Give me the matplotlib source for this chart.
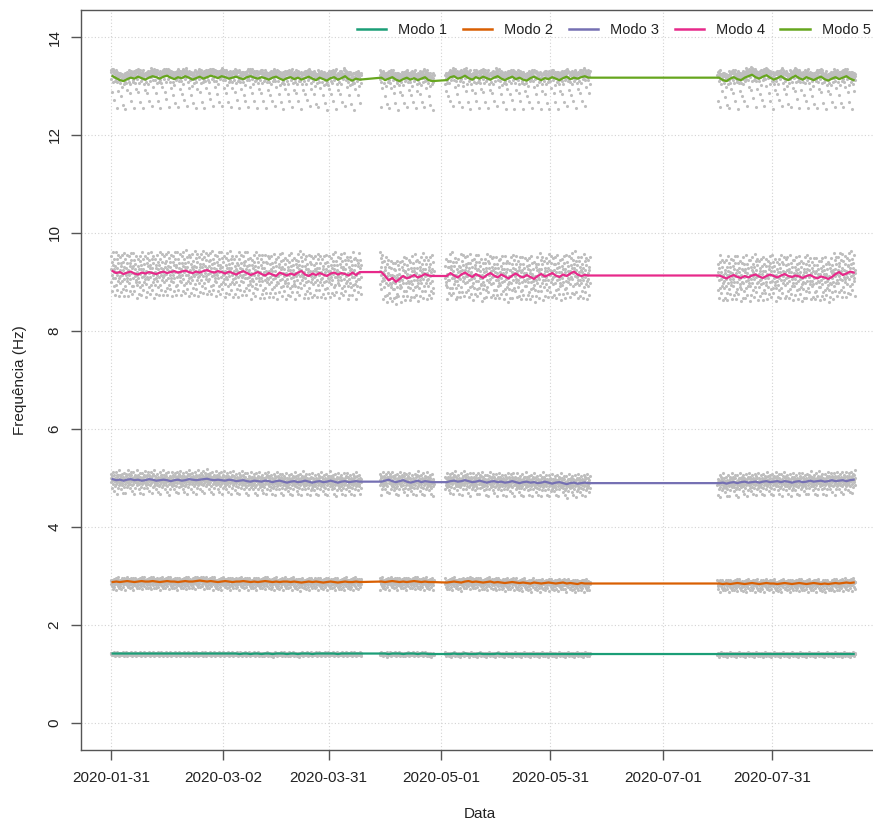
import numpy as np
import matplotlib
matplotlib.use("Agg")
import matplotlib.pyplot as plt
import matplotlib.dates as mdates
from matplotlib.lines import Line2D
import pandas as pd

plt.rcParams['font.family'] = ['Liberation Sans', 'DejaVu Sans']

# ---------------- data ----------------
segment_starts = ["2020-01-31", "2020-04-14", "2020-05-02", "2020-07-16"]

# Modo 1 (daily line values per segment)
modo1_a = [1.41, 1.41, 1.41, 1.41, 1.41, 1.41, 1.41, 1.41, 1.41, 1.41,
           1.41, 1.41, 1.41, 1.41, 1.41, 1.41, 1.41, 1.41, 1.41, 1.41,
           1.41, 1.41, 1.41, 1.41, 1.41, 1.41, 1.41, 1.41, 1.41, 1.41,
           1.41, 1.41, 1.41, 1.41, 1.41, 1.40, 1.41, 1.41, 1.40, 1.41,
           1.41, 1.40, 1.41, 1.41, 1.40, 1.41, 1.41, 1.41, 1.40, 1.41,
           1.41, 1.40, 1.41, 1.41, 1.41, 1.40, 1.41, 1.41, 1.41, 1.41,
           1.41, 1.41, 1.40, 1.41, 1.41, 1.41, 1.41, 1.41, 1.41]
modo1_b = [1.41, 1.41, 1.40, 1.41, 1.41, 1.41, 1.40, 1.41, 1.41, 1.41,
           1.40, 1.41, 1.41, 1.40, 1.40]
modo1_c = [1.40, 1.40, 1.41, 1.40, 1.40, 1.41, 1.40, 1.40, 1.40, 1.41,
           1.40, 1.40, 1.40, 1.40, 1.41, 1.40, 1.40, 1.40, 1.40, 1.40,
           1.40, 1.40, 1.40, 1.40, 1.40, 1.40, 1.40, 1.40, 1.40, 1.40,
           1.40, 1.40, 1.40, 1.40, 1.40, 1.40, 1.40, 1.40, 1.40, 1.40]
modo1_d = [1.40, 1.40, 1.40, 1.40, 1.40, 1.40, 1.40, 1.40, 1.40, 1.40,
           1.40, 1.40, 1.40, 1.40, 1.40, 1.40, 1.40, 1.40, 1.40, 1.40,
           1.40, 1.40, 1.40, 1.40, 1.40, 1.40, 1.40, 1.40, 1.40, 1.40,
           1.40, 1.40, 1.40, 1.40, 1.40, 1.40, 1.40, 1.40]

# Modo 2
modo2_a = [2.87, 2.88, 2.87, 2.88, 2.89, 2.88, 2.87, 2.88, 2.89, 2.88,
           2.88, 2.89, 2.88, 2.87, 2.88, 2.89, 2.88, 2.88, 2.87, 2.88,
           2.89, 2.88, 2.88, 2.89, 2.90, 2.89, 2.88, 2.89, 2.88, 2.87,
           2.88, 2.89, 2.88, 2.87, 2.88, 2.88, 2.89, 2.88, 2.87, 2.88,
           2.87, 2.88, 2.89, 2.88, 2.87, 2.88, 2.87, 2.88, 2.88, 2.87,
           2.88, 2.87, 2.86, 2.87, 2.88, 2.87, 2.88, 2.87, 2.86, 2.87,
           2.88, 2.87, 2.86, 2.87, 2.88, 2.87, 2.87, 2.88, 2.87]
modo2_b = [2.88, 2.87, 2.88, 2.89, 2.88, 2.87, 2.88, 2.87, 2.88, 2.89,
           2.88, 2.87, 2.88, 2.87, 2.87]
modo2_c = [2.86, 2.87, 2.88, 2.87, 2.86, 2.88, 2.89, 2.87, 2.88, 2.87,
           2.86, 2.87, 2.88, 2.86, 2.87, 2.86, 2.85, 2.86, 2.87, 2.86,
           2.85, 2.86, 2.85, 2.84, 2.86, 2.85, 2.84, 2.85, 2.86, 2.85,
           2.84, 2.85, 2.86, 2.84, 2.85, 2.84, 2.83, 2.85, 2.84, 2.84]
modo2_d = [2.84, 2.83, 2.84, 2.83, 2.84, 2.85, 2.84, 2.83, 2.84, 2.85,
           2.84, 2.83, 2.84, 2.85, 2.84, 2.84, 2.83, 2.84, 2.85, 2.84,
           2.83, 2.84, 2.85, 2.84, 2.83, 2.84, 2.85, 2.84, 2.83, 2.84,
           2.83, 2.84, 2.85, 2.84, 2.85, 2.86, 2.85, 2.86]

# Modo 3
modo3_a = [4.97, 4.95, 4.96, 4.94, 4.96, 4.97, 4.95, 4.96, 4.94, 4.95,
           4.97, 4.96, 4.94, 4.95, 4.96, 4.95, 4.93, 4.95, 4.96, 4.94,
           4.95, 4.97, 4.96, 4.95, 4.96, 4.97, 4.98, 4.96, 4.95, 4.96,
           4.95, 4.94, 4.96, 4.95, 4.93, 4.94, 4.95, 4.93, 4.92, 4.94,
           4.93, 4.92, 4.94, 4.93, 4.91, 4.93, 4.94, 4.92, 4.90, 4.92,
           4.93, 4.91, 4.92, 4.94, 4.92, 4.90, 4.92, 4.93, 4.91, 4.92,
           4.94, 4.92, 4.90, 4.92, 4.93, 4.91, 4.92, 4.93, 4.92]
modo3_b = [4.92, 4.94, 4.96, 4.93, 4.91, 4.93, 4.95, 4.92, 4.90, 4.92,
           4.94, 4.91, 4.93, 4.92, 4.91]
modo3_c = [4.91, 4.93, 4.94, 4.92, 4.93, 4.95, 4.93, 4.91, 4.92, 4.94,
           4.92, 4.90, 4.92, 4.93, 4.91, 4.92, 4.90, 4.91, 4.93, 4.91,
           4.89, 4.91, 4.92, 4.90, 4.91, 4.89, 4.90, 4.92, 4.90, 4.88,
           4.90, 4.91, 4.89, 4.87, 4.89, 4.90, 4.88, 4.89, 4.90, 4.89]
modo3_d = [4.89, 4.90, 4.88, 4.90, 4.91, 4.89, 4.91, 4.92, 4.90, 4.91,
           4.92, 4.90, 4.92, 4.93, 4.91, 4.92, 4.93, 4.91, 4.93, 4.92,
           4.90, 4.92, 4.93, 4.91, 4.92, 4.94, 4.92, 4.93, 4.94, 4.92,
           4.93, 4.95, 4.93, 4.94, 4.95, 4.93, 4.95, 4.96]

# Modo 4
modo4_a = [9.22, 9.18, 9.20, 9.16, 9.19, 9.21, 9.17, 9.15, 9.19, 9.17,
           9.20, 9.18, 9.16, 9.19, 9.21, 9.18, 9.20, 9.22, 9.19, 9.21,
           9.23, 9.20, 9.18, 9.21, 9.19, 9.22, 9.24, 9.21, 9.19, 9.22,
           9.20, 9.17, 9.21, 9.18, 9.15, 9.19, 9.22, 9.18, 9.14, 9.17,
           9.20, 9.16, 9.13, 9.18, 9.15, 9.12, 9.19, 9.16, 9.13, 9.17,
           9.14, 9.19, 9.22, 9.15, 9.12, 9.17, 9.14, 9.18, 9.15, 9.12,
           9.17, 9.19, 9.15, 9.18, 9.16, 9.13, 9.19, 9.14, 9.20]
modo4_b = [9.20, 9.12, 9.03, 9.08, 9.00, 9.06, 9.12, 9.07, 9.10, 9.14,
           9.09, 9.12, 9.16, 9.13, 9.12]
modo4_c = [9.12, 9.18, 9.13, 9.09, 9.15, 9.19, 9.14, 9.10, 9.16, 9.12,
           9.08, 9.14, 9.18, 9.13, 9.09, 9.15, 9.11, 9.07, 9.13, 9.17,
           9.12, 9.09, 9.14, 9.10, 9.06, 9.12, 9.16, 9.11, 9.14, 9.18,
           9.13, 9.10, 9.15, 9.12, 9.17, 9.21, 9.15, 9.12, 9.14, 9.13]
modo4_d = [9.13, 9.10, 9.07, 9.11, 9.14, 9.10, 9.08, 9.12, 9.09, 9.13,
           9.15, 9.11, 9.08, 9.12, 9.15, 9.12, 9.09, 9.13, 9.16, 9.12,
           9.10, 9.13, 9.11, 9.08, 9.12, 9.14, 9.10, 9.07, 9.11, 9.09,
           9.06, 9.10, 9.16, 9.20, 9.14, 9.17, 9.21, 9.19]

# Modo 5
modo5_a = [13.20, 13.16, 13.12, 13.10, 13.14, 13.17, 13.15, 13.19, 13.16, 13.13,
           13.17, 13.20, 13.18, 13.15, 13.19, 13.21, 13.17, 13.14, 13.18, 13.16,
           13.20, 13.17, 13.13, 13.16, 13.19, 13.15, 13.18, 13.21, 13.19, 13.16,
           13.20, 13.18, 13.15, 13.17, 13.19, 13.16, 13.14, 13.18, 13.20, 13.17,
           13.15, 13.18, 13.16, 13.13, 13.17, 13.19, 13.15, 13.12, 13.16, 13.18,
           13.14, 13.17, 13.13, 13.16, 13.19, 13.15, 13.12, 13.17, 13.14, 13.11,
           13.16, 13.18, 13.13, 13.16, 13.20, 13.14, 13.11, 13.15, 13.13]
modo5_b = [13.17, 13.12, 13.15, 13.18, 13.13, 13.10, 13.14, 13.17, 13.13, 13.16,
           13.12, 13.15, 13.18, 13.12, 13.10]
modo5_c = [13.12, 13.18, 13.20, 13.15, 13.17, 13.21, 13.16, 13.13, 13.18, 13.15,
           13.19, 13.16, 13.13, 13.17, 13.20, 13.15, 13.12, 13.16, 13.19, 13.14,
           13.17, 13.13, 13.11, 13.16, 13.19, 13.15, 13.12, 13.16, 13.14, 13.18,
           13.15, 13.12, 13.16, 13.19, 13.14, 13.17, 13.15, 13.18, 13.20, 13.17]
modo5_d = [13.17, 13.12, 13.10, 13.15, 13.18, 13.14, 13.12, 13.17, 13.20, 13.23,
           13.18, 13.15, 13.19, 13.22, 13.17, 13.13, 13.16, 13.20, 13.15, 13.12,
           13.17, 13.21, 13.16, 13.13, 13.18, 13.15, 13.12, 13.16, 13.19, 13.14,
           13.11, 13.15, 13.18, 13.14, 13.17, 13.20, 13.15, 13.12]

# spread of the individual readings (gray points) around the daily line
spread1 = [0.01, -0.01, 0.02, 0.00, -0.02, 0.01, -0.04, 0.00, 0.02, -0.01,
           0.03, -0.02, 0.01, -0.06, 0.00, 0.01, -0.01, 0.02, -0.03, 0.00,
           0.01, -0.02, 0.04, 0.00, -0.01, 0.01, -0.05, 0.02, 0.00]
spread2 = [0.02, -0.03, 0.05, -0.08, 0.01, 0.04, -0.14, 0.03, -0.01, 0.07,
           -0.05, 0.00, -0.11, 0.06, 0.02, -0.04, 0.08, -0.17, 0.01, 0.03,
           -0.06, 0.05, -0.02, 0.09, -0.09, 0.04, -0.01, 0.02, -0.13]
spread3 = [0.03, -0.06, 0.10, -0.02, 0.06, -0.18, 0.01, -0.09, 0.14, -0.04,
           0.08, -0.25, 0.02, -0.12, 0.05, -0.01, 0.16, -0.07, 0.04, -0.28,
           0.07, -0.03, 0.11, -0.15, 0.00, 0.09, -0.05, 0.19, -0.10]
spread4 = [0.05, -0.22, 0.31, -0.08, 0.18, -0.40, 0.12, -0.15, 0.38, -0.02,
           0.24, -0.30, 0.08, -0.45, 0.15, -0.10, 0.42, -0.25, 0.02, 0.28,
           -0.35, 0.10, -0.05, 0.20, -0.18, 0.35, -0.12, 0.00, -0.48]
spread5 = [0.12, -0.05, 0.08, 0.15, -0.32, 0.03, 0.10, -0.12, 0.14, 0.06,
           -0.48, 0.11, 0.02, 0.09, -0.06, 0.13, 0.05, -0.02, 0.16, -0.60,
           0.07, 0.12, -0.08, 0.10, 0.04, -0.22, 0.14, 0.01, 0.09]

labels = ["Modo 1", "Modo 2", "Modo 3", "Modo 4", "Modo 5"]
colors = ["#1B9E77", "#D95F02", "#7570B3", "#E7298A", "#66A61E"]

x_ticks = ["2020-01-31", "2020-03-02", "2020-03-31", "2020-05-01",
           "2020-05-31", "2020-07-01", "2020-07-31"]
y_ticks = [0, 2, 4, 6, 8, 10, 12, 14]

series = [
    [modo1_a, modo1_b, modo1_c, modo1_d],
    [modo2_a, modo2_b, modo2_c, modo2_d],
    [modo3_a, modo3_b, modo3_c, modo3_d],
    [modo4_a, modo4_b, modo4_c, modo4_d],
    [modo5_a, modo5_b, modo5_c, modo5_d],
]
spreads = [spread1, spread2, spread3, spread4, spread5]
READINGS_PER_DAY = 12

# ---------------- plot ----------------
W, H = 873, 826
fig = plt.figure(figsize=(W / 100, H / 100), dpi=100)
ax = fig.add_axes([81 / W, 1 - 750 / H, (878 - 81) / W, (750 - 9.6) / H])

text_col = "#222222"
axis_col = "#555555"

for segs, spread, col, lab in zip(series, spreads, colors, labels):
    dates = np.concatenate([
        pd.date_range(s, periods=len(v), freq="D").values
        for s, v in zip(segment_starts, segs)])
    vals = np.concatenate([np.asarray(v, float) for v in segs])
    xd = mdates.date2num(dates)
    sp = np.asarray(spread, float)
    n = len(sp)
    day_idx = np.repeat(np.arange(len(vals)), READINGS_PER_DAY)
    k = np.tile(np.arange(READINGS_PER_DAY), len(vals))
    px = xd[day_idx] + k / READINGS_PER_DAY
    py = vals[day_idx] + sp[(day_idx * READINGS_PER_DAY + k) % n]
    ax.scatter(px, py, s=5, color="#BEBEBE", linewidths=0, zorder=2)
    ax.plot(xd + 0.5, vals, color=col, lw=1.6, zorder=3, label=lab)

t0 = mdates.date2num(np.datetime64("2020-01-31"))
ax.set_xlim(t0 - 8.2, t0 + 211.2)
ax.set_ylim(-0.56, 14.56)

xt = mdates.date2num(np.array(x_ticks, dtype="datetime64[D]"))
ax.set_xticks(xt)
ax.set_xticklabels(x_ticks)
ax.set_yticks(y_ticks)
ax.set_yticklabels([str(v) for v in y_ticks], rotation=90, va="center")

ax.grid(True, linestyle=(0, (1, 2)), color="#D3D3D3", lw=0.8, zorder=0)
ax.set_axisbelow(True)

for side in ["left", "bottom", "top"]:
    ax.spines[side].set_color(axis_col)
    ax.spines[side].set_linewidth(1.0)
ax.spines["right"].set_visible(False)

ax.tick_params(axis="both", direction="out", length=7, width=1,
               color=axis_col, labelcolor=text_col, labelsize=11, pad=8)
ax.tick_params(axis="y", pad=7)

ax.set_xlabel("Data", fontsize=11, color=text_col, labelpad=16)
ax.set_ylabel("Frequência (Hz)", fontsize=11, color=text_col, labelpad=15)

handles = [Line2D([0], [0], color=c, lw=1.8) for c in colors]
fig.legend(handles, labels, loc="upper right", ncol=5, frameon=False,
           bbox_to_anchor=(871 / W, 1 - 23 / H), borderaxespad=0, borderpad=0,
           handlelength=2.0, handletextpad=0.85, columnspacing=1.05,
           fontsize=10.5, labelcolor=text_col)

fig.savefig("out.png", dpi=100)
